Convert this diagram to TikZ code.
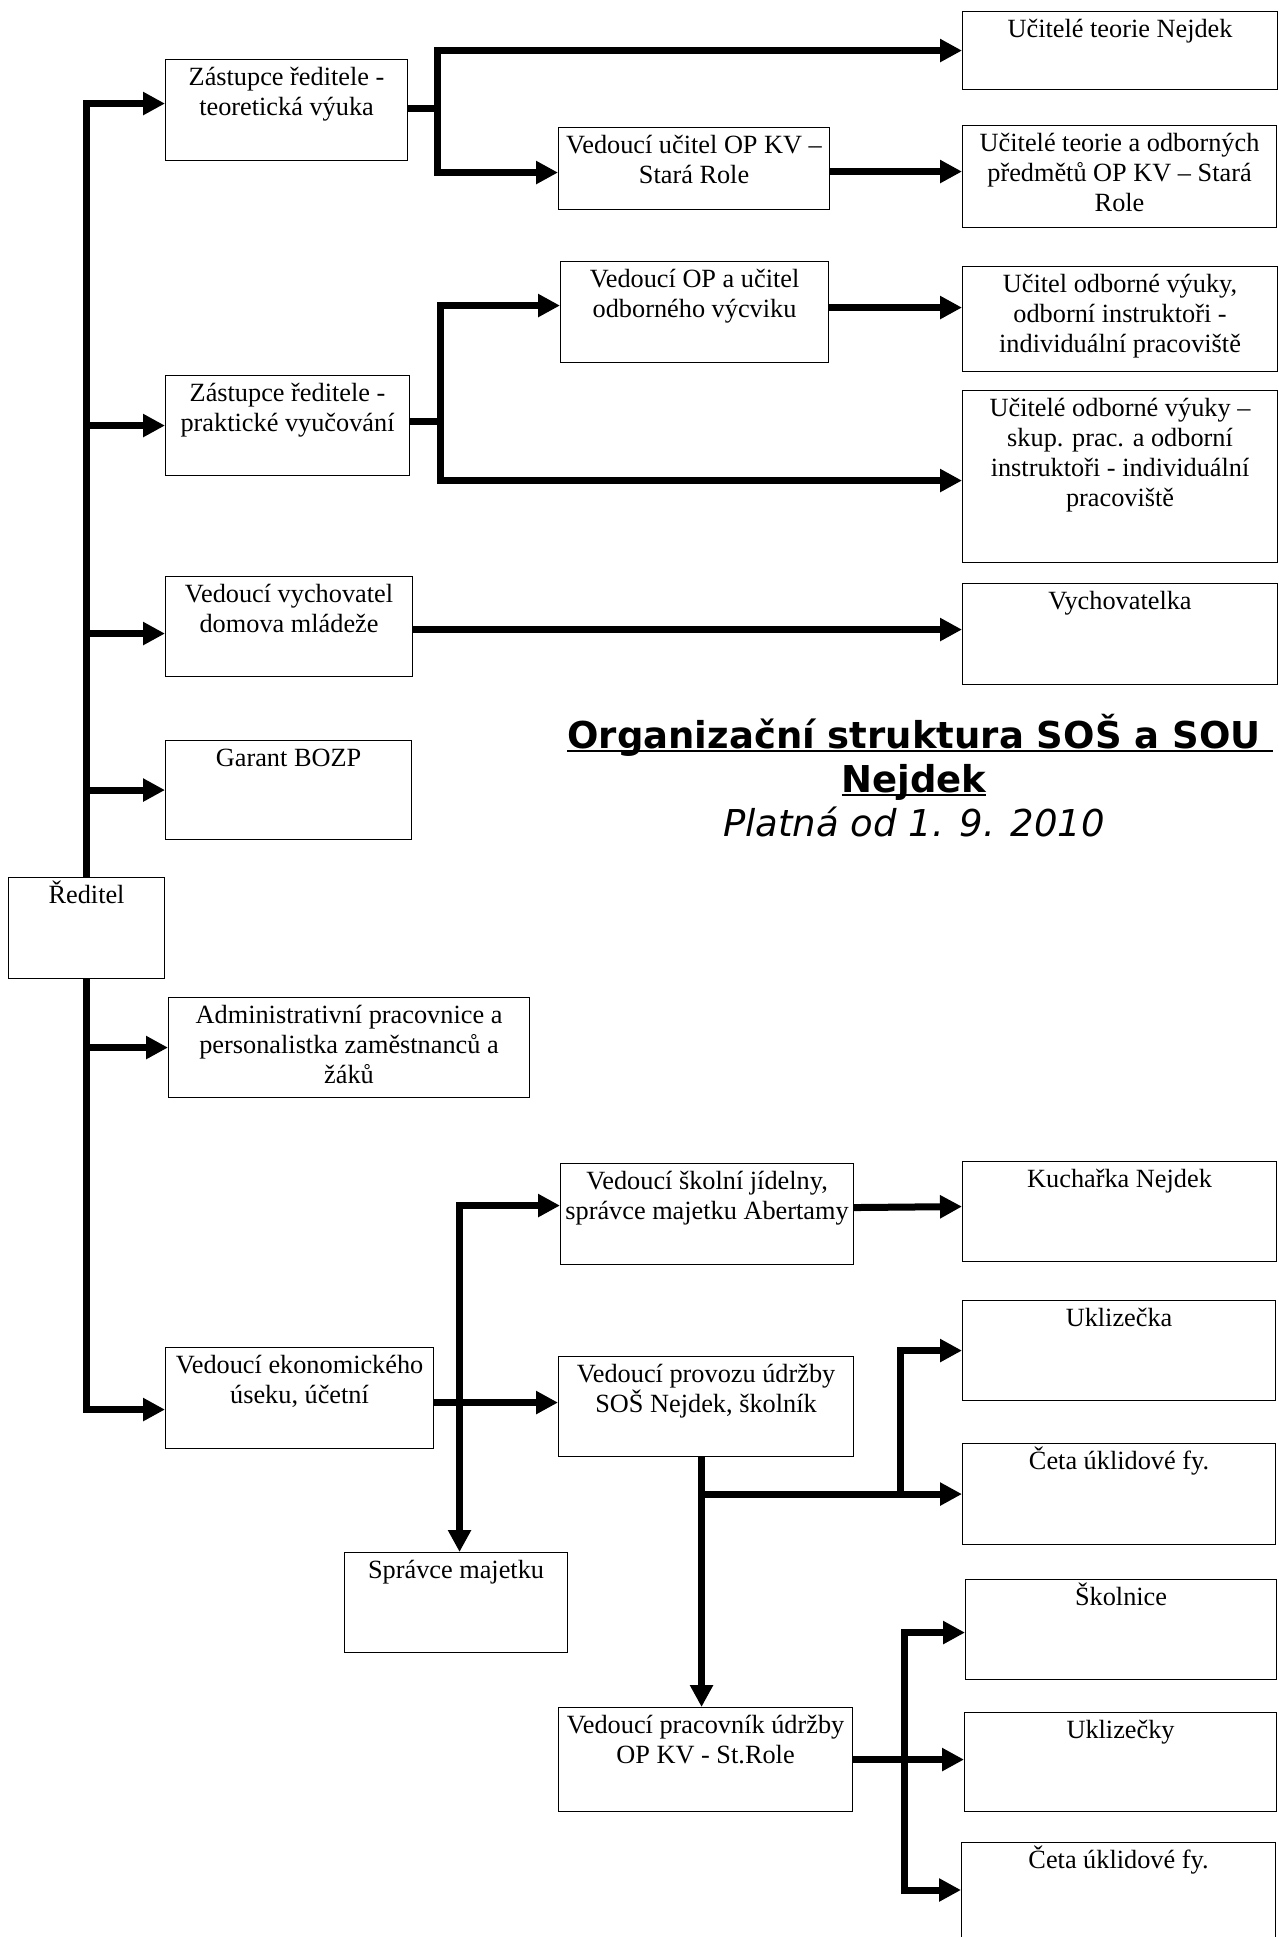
\documentclass[tikz,border=0pt]{standalone}
\usepackage{fontspec}
\setmainfont{Liberation Serif}
\newfontfamily\titlefont{DejaVu Sans}
\usetikzlibrary{arrows.meta,calc}

\newcommand{\boxfont}{\fontsize{26.3pt}{30.3pt}\selectfont}
\tikzset{
  orgbox/.style={draw=black, line width=1.1pt, inner xsep=2pt, inner ysep=0pt, anchor=north west},
  conn/.style={line width=7pt, -{Triangle[length=22pt,width=22pt]}},
  conntwo/.style={line width=7pt, {Triangle[length=22pt,width=22pt]}-{Triangle[length=22pt,width=22pt]}},
  plainline/.style={line width=7pt},
}
\newcommand{\orgbox}[6]{\node[orgbox] (#1) at (#2,#3) {\parbox[c][#5pt][t]{\dimexpr#4pt-4pt\relax}{\boxfont\centering\rule{0pt}{25.5pt}#6}};}
\newcommand{\ulx}[2]{\leavevmode\setbox0=\hbox{#1}\rlap{\rule[-4.3pt]{\dimexpr\wd0+#2\relax}{2.7pt}}\box0}

\begin{document}
\begin{tikzpicture}[x=1pt,y=-1pt]
\fill[white] (0,0) rectangle (1278,1937);
\useasboundingbox (0,0) rectangle (1278,1937);

% boxes
\orgbox{zt}{165}{59}{242}{101}{Zástupce ředitele -\\teoretická výuka}
\orgbox{vu}{558}{127}{271}{82}{Vedoucí učitel OP KV –\\Stará Role}
\orgbox{utn}{962}{11}{315}{78}{Učitelé teorie Nejdek}
\orgbox{utao}{962}{125}{314}{102}{Učitelé teorie a odborných\\předmětů OP KV – Stará\\Role}
\orgbox{vop}{560}{261}{268}{101}{Vedoucí OP a učitel\\odborného výcviku}
\orgbox{zp}{165}{375}{244}{100}{Zástupce ředitele -\\praktické vyučování}
\orgbox{uov}{962}{266}{315}{105}{Učitel odborné výuky,\\odborní instruktoři -\\individuální pracoviště}
\orgbox{uovs}{962}{390}{315}{172}{Učitelé odborné výuky –\\skup. prac. a odborní\\instruktoři - individuální\\pracoviště}
\orgbox{vv}{165}{576}{247}{100}{Vedoucí vychovatel\\domova mládeže}
\orgbox{vych}{962}{583}{315}{101}{Vychovatelka}
\orgbox{bozp}{165}{740}{246}{99}{Garant BOZP}
\orgbox{red}{8}{877}{156}{101}{Ředitel}
\orgbox{adm}{168}{997}{361}{100}{Administrativní pracovnice a\\personalistka zaměstnanců a\\žáků}
\orgbox{vek}{165}{1347}{268}{101}{Vedoucí ekonomického\\úseku, účetní}
\orgbox{vsj}{560}{1163}{293}{101}{Vedoucí školní jídelny,\\správce majetku Abertamy}
\orgbox{vpu}{558}{1356}{295}{100}{Vedoucí provozu údržby\\SOŠ Nejdek, školník}
\orgbox{sm}{344}{1552}{223}{100}{Správce majetku}
\orgbox{kn}{962}{1161}{314}{100}{Kuchařka Nejdek}
\orgbox{ukl}{962}{1300}{313}{100}{Uklizečka}
\orgbox{cetaA}{962}{1443}{313}{101}{Četa úklidové fy.}
\orgbox{skol}{965}{1579}{311}{100}{Školnice}
\orgbox{vpr}{558}{1707}{294}{104}{Vedoucí pracovník údržby\\OP KV - St.Role}
\orgbox{ukls}{964}{1712}{312}{99}{Uklizečky}
\orgbox{cetaB}{961}{1842}{314}{110}{Četa úklidové fy.}

% title
\node[inner sep=0pt, anchor=base] (title) at (914,748) {\parbox[t]{760pt}{\centering\titlefont\fontsize{37pt}{44pt}\selectfont
  \bfseries\ulx{Organizační struktura SOŠ a SOU}{12.9pt}\\\ulx{Nejdek}{0pt}\\
  \mdseries\itshape Platná od 1. 9. 2010}};

% helper coordinates
\coordinate (azt) at ($(zt.west)+(0,-6.5)$);
\coordinate (avv) at ($(vv.west)+(0,7)$);
\coordinate (avek) at ($(vek.west)+(0,11.5)$);
\coordinate (jA) at (437,109);
\coordinate (avu) at ($(vu.west)+(0,4)$);
\coordinate (bvu) at ($(vu.east)+(0,3)$);
\coordinate (jB) at (440,421);
\coordinate (avop) at ($(vop.west)+(0,-6.5)$);
\coordinate (auovs) at ($(uovs.west)+(0,4)$);
\coordinate (bvop) at ($(vop.east)+(0,-4.5)$);
\coordinate (bvv) at ($(vv.east)+(0,3)$);
\coordinate (bvek) at ($(vek.east)+(0,4.5)$);
\coordinate (tsm) at ($(sm.north)+(3.5,0)$);
\coordinate (avsj) at ($(vsj.west)+(0,-8.5)$);
\coordinate (bvsj) at ($(vsj.east)+(0,-6.5)$);
\coordinate (akn) at ($(kn.west)+(0,-5)$);
\coordinate (svpu) at ($(vpu.south)+(-4.5,0)$);
\coordinate (jC) at (svpu |- cetaA.west);
\coordinate (jD) at (900,0);
\coordinate (askol) at ($(skol.west)+(0,3)$);
\coordinate (jE) at (904,1890);

% trunk from Reditel
\draw[conn] (red.north) |- (azt);
\draw[conn] (red.north |- zp.west) -- (zp.west);
\draw[conn] (red.north |- avv) -- (avv);
\draw[conn] (red.north |- bozp.west) -- (bozp.west);
\draw[conn] (red.south |- adm.west) -- (adm.west);
\draw[conn] (red.south) |- (avek);

% theory branch
\draw[plainline] (zt.east |- jA) -- (jA);
\draw[conn] (jA) |- (utn.west);
\draw[conn] (jA) |- (avu);
\draw[conn] (bvu) -- (bvu -| utao.west);

% practical branch
\draw[plainline] (zp.east |- jB) -- (jB);
\draw[conn] (jB) |- (avop);
\draw[conn] (jB) |- (auovs);
\draw[conn] (bvop) -- (bvop -| uov.west);

% vychovatel
\draw[conn] (bvv) -- (bvv -| vych.west);

% economic branch
\draw[conn] (bvek) -- (bvek -| vpu.west);
\draw[conntwo] (tsm) |- (avsj);
\draw[conn] (bvsj) -- (akn);

% maintenance
\draw[conn] (svpu) -- (svpu |- vpr.north);
\draw[conn] (jC) -- (cetaA.west);
\draw[conn] (jD |- jC) |- (ukl.west);
\draw[conn] (vpr.east) -- (vpr.east -| ukls.west);
\draw[conntwo] (askol) -| (jE) -- (jE -| cetaB.west);
\end{tikzpicture}
\end{document}
